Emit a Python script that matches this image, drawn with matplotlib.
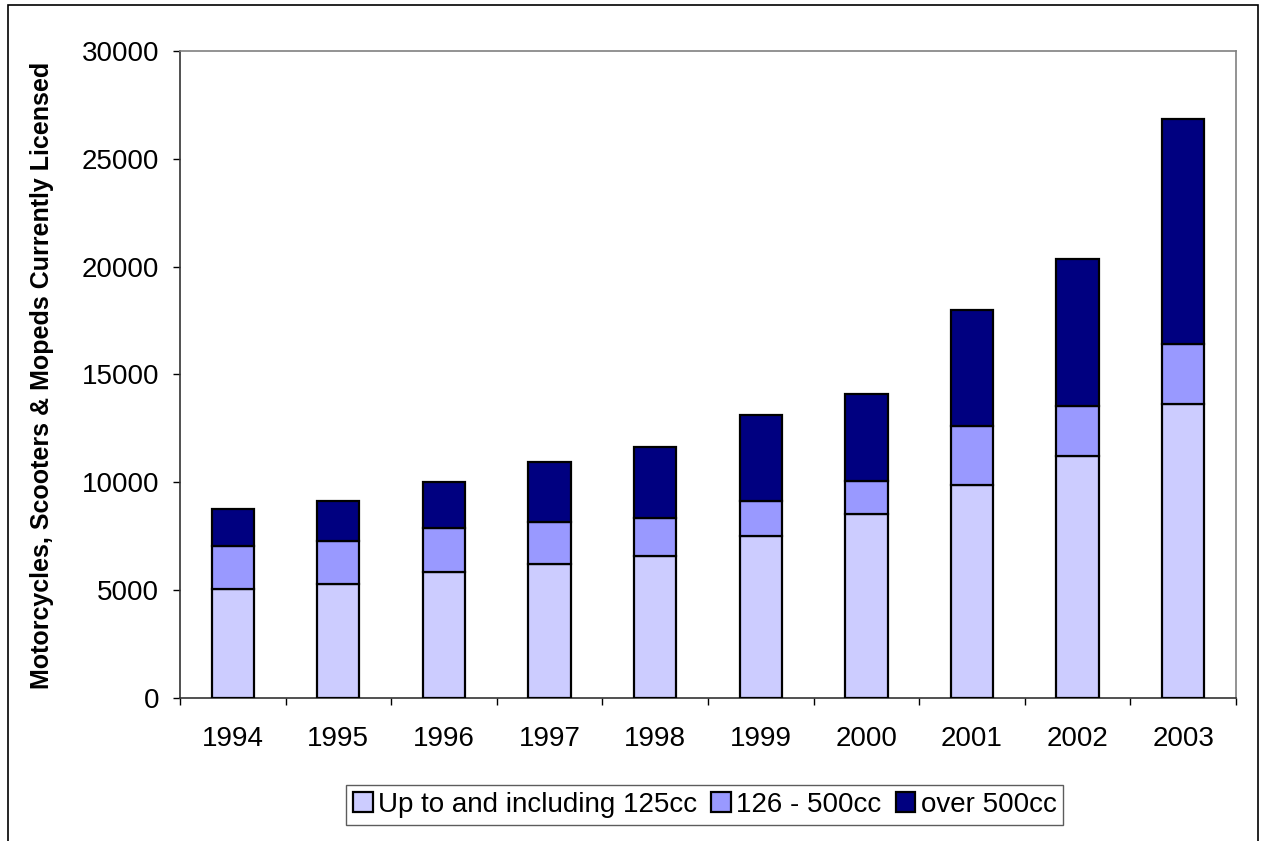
import matplotlib.pyplot as plt
import numpy as np
from matplotlib.patches import Rectangle

years = ['1994', '1995', '1996', '1997', '1998', '1999', '2000', '2001', '2002', '2003']
upto_125 = [5050, 5270, 5830, 6220, 6570, 7500, 8530, 9860, 11240, 13620]
cc_126_500 = [2020, 2000, 2060, 1960, 1760, 1650, 1550, 2760, 2310, 2780]
over_500 = [1710, 1860, 2130, 2750, 3320, 3950, 4030, 5380, 6820, 10440]

labels = ['Up to and including 125cc', '126 - 500cc', 'over 500cc']
colors = ['#CCCCFF', '#9999FF', '#000080']

plt.rcParams['font.family'] = ['Liberation Sans', 'DejaVu Sans']

fig = plt.figure(figsize=(12.61, 8.41), dpi=100)
ax = fig.add_axes([0.1427, 0.170, 0.8375, 0.7694])

x = np.arange(len(years))
bottom = np.zeros(len(years))
for vals, lab, col in zip([upto_125, cc_126_500, over_500], labels, colors):
    ax.bar(x, vals, width=0.4, bottom=bottom, color=col, edgecolor='black',
           linewidth=1.6, label=lab, zorder=3)
    bottom += np.array(vals)

ax.set_xlim(-0.5, len(years) - 0.5)
ax.set_ylim(0, 30000)
ax.set_yticks(range(0, 30001, 5000))
ax.tick_params(axis='y', labelsize=20, direction='out', length=5, width=1, pad=10)

ax.set_xticks(x)
ax.set_xticklabels(years, fontsize=20)
ax.tick_params(axis='x', which='major', length=0, pad=20)
ax.set_xticks(np.arange(-0.5, len(years), 1.0), minor=True)
ax.tick_params(axis='x', which='minor', direction='out', length=5, width=1)

for side in ['top', 'right']:
    ax.spines[side].set_color('#808080')
    ax.spines[side].set_linewidth(1.2)
for side in ['left', 'bottom']:
    ax.spines[side].set_color('#333333')
    ax.spines[side].set_linewidth(1.2)

fig.text(42 / 1261, 1 - 375 / 841, 'Motorcycles, Scooters & Mopeds Currently Licensed',
         fontsize=18, fontweight='bold', rotation=90, ha='center', va='center')

leg = fig.legend(loc='center', bbox_to_anchor=(0.559, 0.043), ncol=3, fontsize=20,
                 frameon=True, fancybox=False, shadow=False, handlelength=0.7,
                 handleheight=0.7, handletextpad=0.2, columnspacing=0.5,
                 borderpad=0.25, borderaxespad=0)
leg.get_frame().set_edgecolor('#333333')
leg.get_frame().set_linewidth(1)

# border around the chart area (bottom edge runs off the image)
fig.patches.append(Rectangle((8 / 1261, -0.01), 1250 / 1261, 1.01 - 5 / 841,
                             transform=fig.transFigure, fill=False,
                             edgecolor='black', linewidth=1.2))

fig.savefig('out.png', dpi=100)
